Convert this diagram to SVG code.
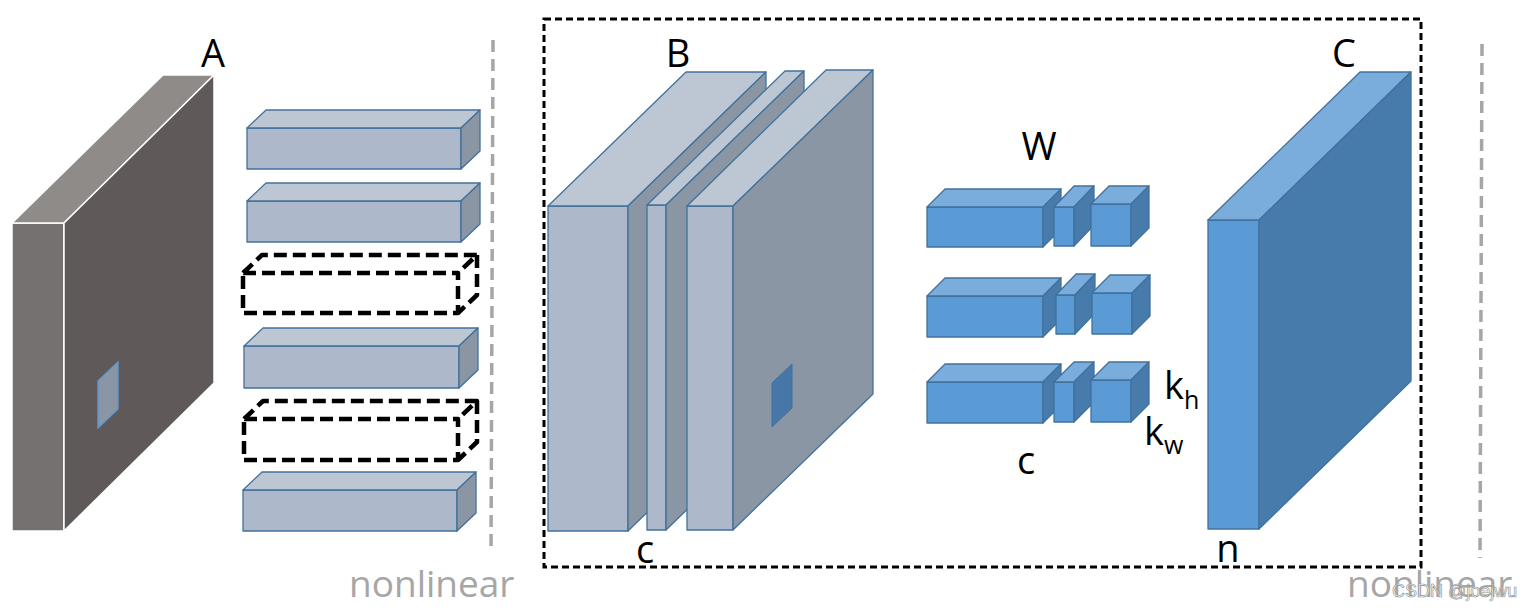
<svg xmlns="http://www.w3.org/2000/svg" width="1537" height="610" viewBox="0 0 1537 610">
<style>
.lbl{font-family:"Open Sans","Liberation Sans",sans-serif;font-size:38px;fill:#000;text-anchor:middle}
.sub{font-family:"Open Sans","Liberation Sans",sans-serif;font-size:25px;fill:#000}
.nl{font-family:"Open Sans","Liberation Sans",sans-serif;font-size:37px;fill:#a6a6a6}
.af{fill:#757170;stroke:#fff;stroke-width:1.5;stroke-linejoin:round}
.at{fill:#8f8b89;stroke:#fff;stroke-width:1.5;stroke-linejoin:round}
.as{fill:#5f5a59;stroke:#fff;stroke-width:1.5;stroke-linejoin:round}
.gf{fill:#adb9ca;stroke:#41719c;stroke-width:1.3;stroke-linejoin:round}
.gt{fill:#bdc7d4;stroke:#41719c;stroke-width:1.3;stroke-linejoin:round}
.gs{fill:#8a96a3;stroke:#41719c;stroke-width:1.3;stroke-linejoin:round}
.bf{fill:#5b9bd5;stroke:#41719c;stroke-width:1.3;stroke-linejoin:round}
.bt{fill:#7aaddb;stroke:#41719c;stroke-width:1.3;stroke-linejoin:round}
.bs{fill:#477bab;stroke:#41719c;stroke-width:1.3;stroke-linejoin:round}
.dash{fill:none;stroke:#000;stroke-width:4.5;stroke-dasharray:13 6;stroke-linejoin:round;stroke-linecap:butt}
.gray{fill:none;stroke:#a6a6a6;stroke-width:3.5;stroke-dasharray:12 7}
</style>

<!-- A -->
<g id="A">
<polygon class="af" points="12,223 64,223 64,531 12,531"/>
<polygon class="at" points="12,223 163,75 214,75 64,223"/>
<polygon class="as" points="64,223 214,75 214,383 64,531"/>
<polygon points="98,381 118,362 118,409 98,428" fill="#8a96a6" stroke="#5b9bd5" stroke-width="1.3"/>
<text class="lbl" x="213" y="67">A</text>
</g>

<!-- bars -->
<g id="bar1">
<polygon class="gf" points="247,128 461,128 461,169 247,169"/>
<polygon class="gt" points="247,128 266,110 480,110 461,128"/>
<polygon class="gs" points="461,128 480,110 480,151 461,169"/>
</g>
<g id="bar2">
<polygon class="gf" points="247,201 461,201 461,242 247,242"/>
<polygon class="gt" points="247,201 266,183 480,183 461,201"/>
<polygon class="gs" points="461,201 480,183 480,224 461,242"/>
</g>
<g id="dbar1">
<path class="dash" d="M243,273 H458 V313 H243 Z M243,273 L262,255 H477 L458,273 M477,255 V295 L458,313"/>
</g>
<g id="bar3">
<polygon class="gf" points="244,346 459,346 459,388 244,388"/>
<polygon class="gt" points="244,346 263,328 478,328 459,346"/>
<polygon class="gs" points="459,346 478,328 478,370 459,388"/>
</g>
<g id="dbar2">
<path class="dash" d="M244,419 H458 V460 H244 Z M244,419 L263,401 H477 L458,419 M477,401 V442 L458,460"/>
</g>
<g id="bar4">
<polygon class="gf" points="243,490 457,490 457,531 243,531"/>
<polygon class="gt" points="243,490 262,472 476,472 457,490"/>
<polygon class="gs" points="457,490 476,472 476,513 457,531"/>
</g>

<!-- separators -->
<g id="separators">
<line class="gray" x1="493" y1="40" x2="491" y2="553"/>
<line class="gray" x1="1482" y1="44" x2="1480" y2="558"/>
<rect x="544" y="19" width="877" height="548" fill="none" stroke="#000" stroke-width="3" stroke-dasharray="7 4"/>
</g>

<!-- B -->
<g id="B">
<polygon class="gf" points="548,206 628,206 628,531 548,531"/>
<polygon class="gt" points="548,206 686,72 766,72 628,206"/>
<polygon class="gs" points="628,206 766,72 766,397 628,531"/>
<polygon class="gf" points="647,205 666,205 666,530 647,530"/>
<polygon class="gt" points="647,205 785,71 804,71 666,205"/>
<polygon class="gs" points="666,205 804,71 804,396 666,530"/>
<polygon class="gf" points="687,206 733,206 733,530 687,530"/>
<polygon class="gt" points="687,206 826,70 873,70 733,206"/>
<polygon class="gs" points="733,206 873,70 873,394 733,530"/>
<polygon points="772,383 792,364 792,408 772,427" fill="#4677a8" stroke="#41719c" stroke-width="1"/>
<text class="lbl" x="678" y="67">B</text>
<text class="lbl" x="645" y="563">c</text>
</g>

<!-- W -->
<g id="W">
<polygon class="bf" points="927,207 1043,207 1043,247 927,247"/>
<polygon class="bt" points="927,207 945,189 1061,189 1043,207"/>
<polygon class="bs" points="1043,207 1061,189 1061,229 1043,247"/>
<polygon class="bf" points="1054,207 1074,207 1074,246 1054,246"/>
<polygon class="bt" points="1054,207 1074,186 1094,186 1074,207"/>
<polygon class="bs" points="1074,207 1094,186 1094,225 1074,246"/>
<polygon class="bf" points="1091,204 1131,204 1131,246 1091,246"/>
<polygon class="bt" points="1091,204 1109,186 1149,186 1131,204"/>
<polygon class="bs" points="1131,204 1149,186 1149,228 1131,246"/>

<polygon class="bf" points="927,296 1043,296 1043,337 927,337"/>
<polygon class="bt" points="927,296 945,278 1061,278 1043,296"/>
<polygon class="bs" points="1043,296 1061,278 1061,319 1043,337"/>
<polygon class="bf" points="1056,295 1075,295 1075,334 1056,334"/>
<polygon class="bt" points="1056,295 1076,274 1095,274 1075,295"/>
<polygon class="bs" points="1075,295 1095,274 1095,313 1075,334"/>
<polygon class="bf" points="1092,293 1132,293 1132,334 1092,334"/>
<polygon class="bt" points="1092,293 1110,275 1150,275 1132,293"/>
<polygon class="bs" points="1132,293 1150,275 1150,316 1132,334"/>

<polygon class="bf" points="927,382 1043,382 1043,423 927,423"/>
<polygon class="bt" points="927,382 945,364 1061,364 1043,382"/>
<polygon class="bs" points="1043,382 1061,364 1061,405 1043,423"/>
<polygon class="bf" points="1054,382 1074,382 1074,422 1054,422"/>
<polygon class="bt" points="1054,382 1074,362 1094,362 1074,382"/>
<polygon class="bs" points="1074,382 1094,362 1094,402 1074,422"/>
<polygon class="bf" points="1091,380 1131,380 1131,422 1091,422"/>
<polygon class="bt" points="1091,380 1109,362 1149,362 1131,380"/>
<polygon class="bs" points="1131,380 1149,362 1149,404 1131,422"/>

<text class="lbl" x="1039" y="160">W</text>
<text class="lbl" x="1026" y="474">c</text>
<text class="lbl" x="1164" y="399" style="text-anchor:start">k</text>
<text class="sub" x="1184" y="409">h</text>
<text class="lbl" x="1144" y="445" style="text-anchor:start">k</text>
<text class="sub" x="1164" y="454">w</text>
</g>

<!-- C -->
<g id="C">
<polygon class="bf" points="1208,220 1259,220 1259,529 1208,529"/>
<polygon class="bt" points="1208,220 1360,72 1411,72 1259,220"/>
<polygon class="bs" points="1259,220 1411,72 1411,381 1259,529"/>
<text class="lbl" x="1344" y="67">C</text>
<text class="lbl" x="1228" y="562">n</text>
</g>

<g id="labels">
<text class="nl" x="349" y="597">nonlinear</text>
<text class="nl" x="1347" y="597">nonlinear</text>
<text x="1392" y="597" font-family="Liberation Sans, sans-serif" font-size="18" fill="#ffffff" fill-opacity="0.85" stroke="#8c8c8c" stroke-width="0.6">CSDN @joejwu</text>
</g>
</svg>
